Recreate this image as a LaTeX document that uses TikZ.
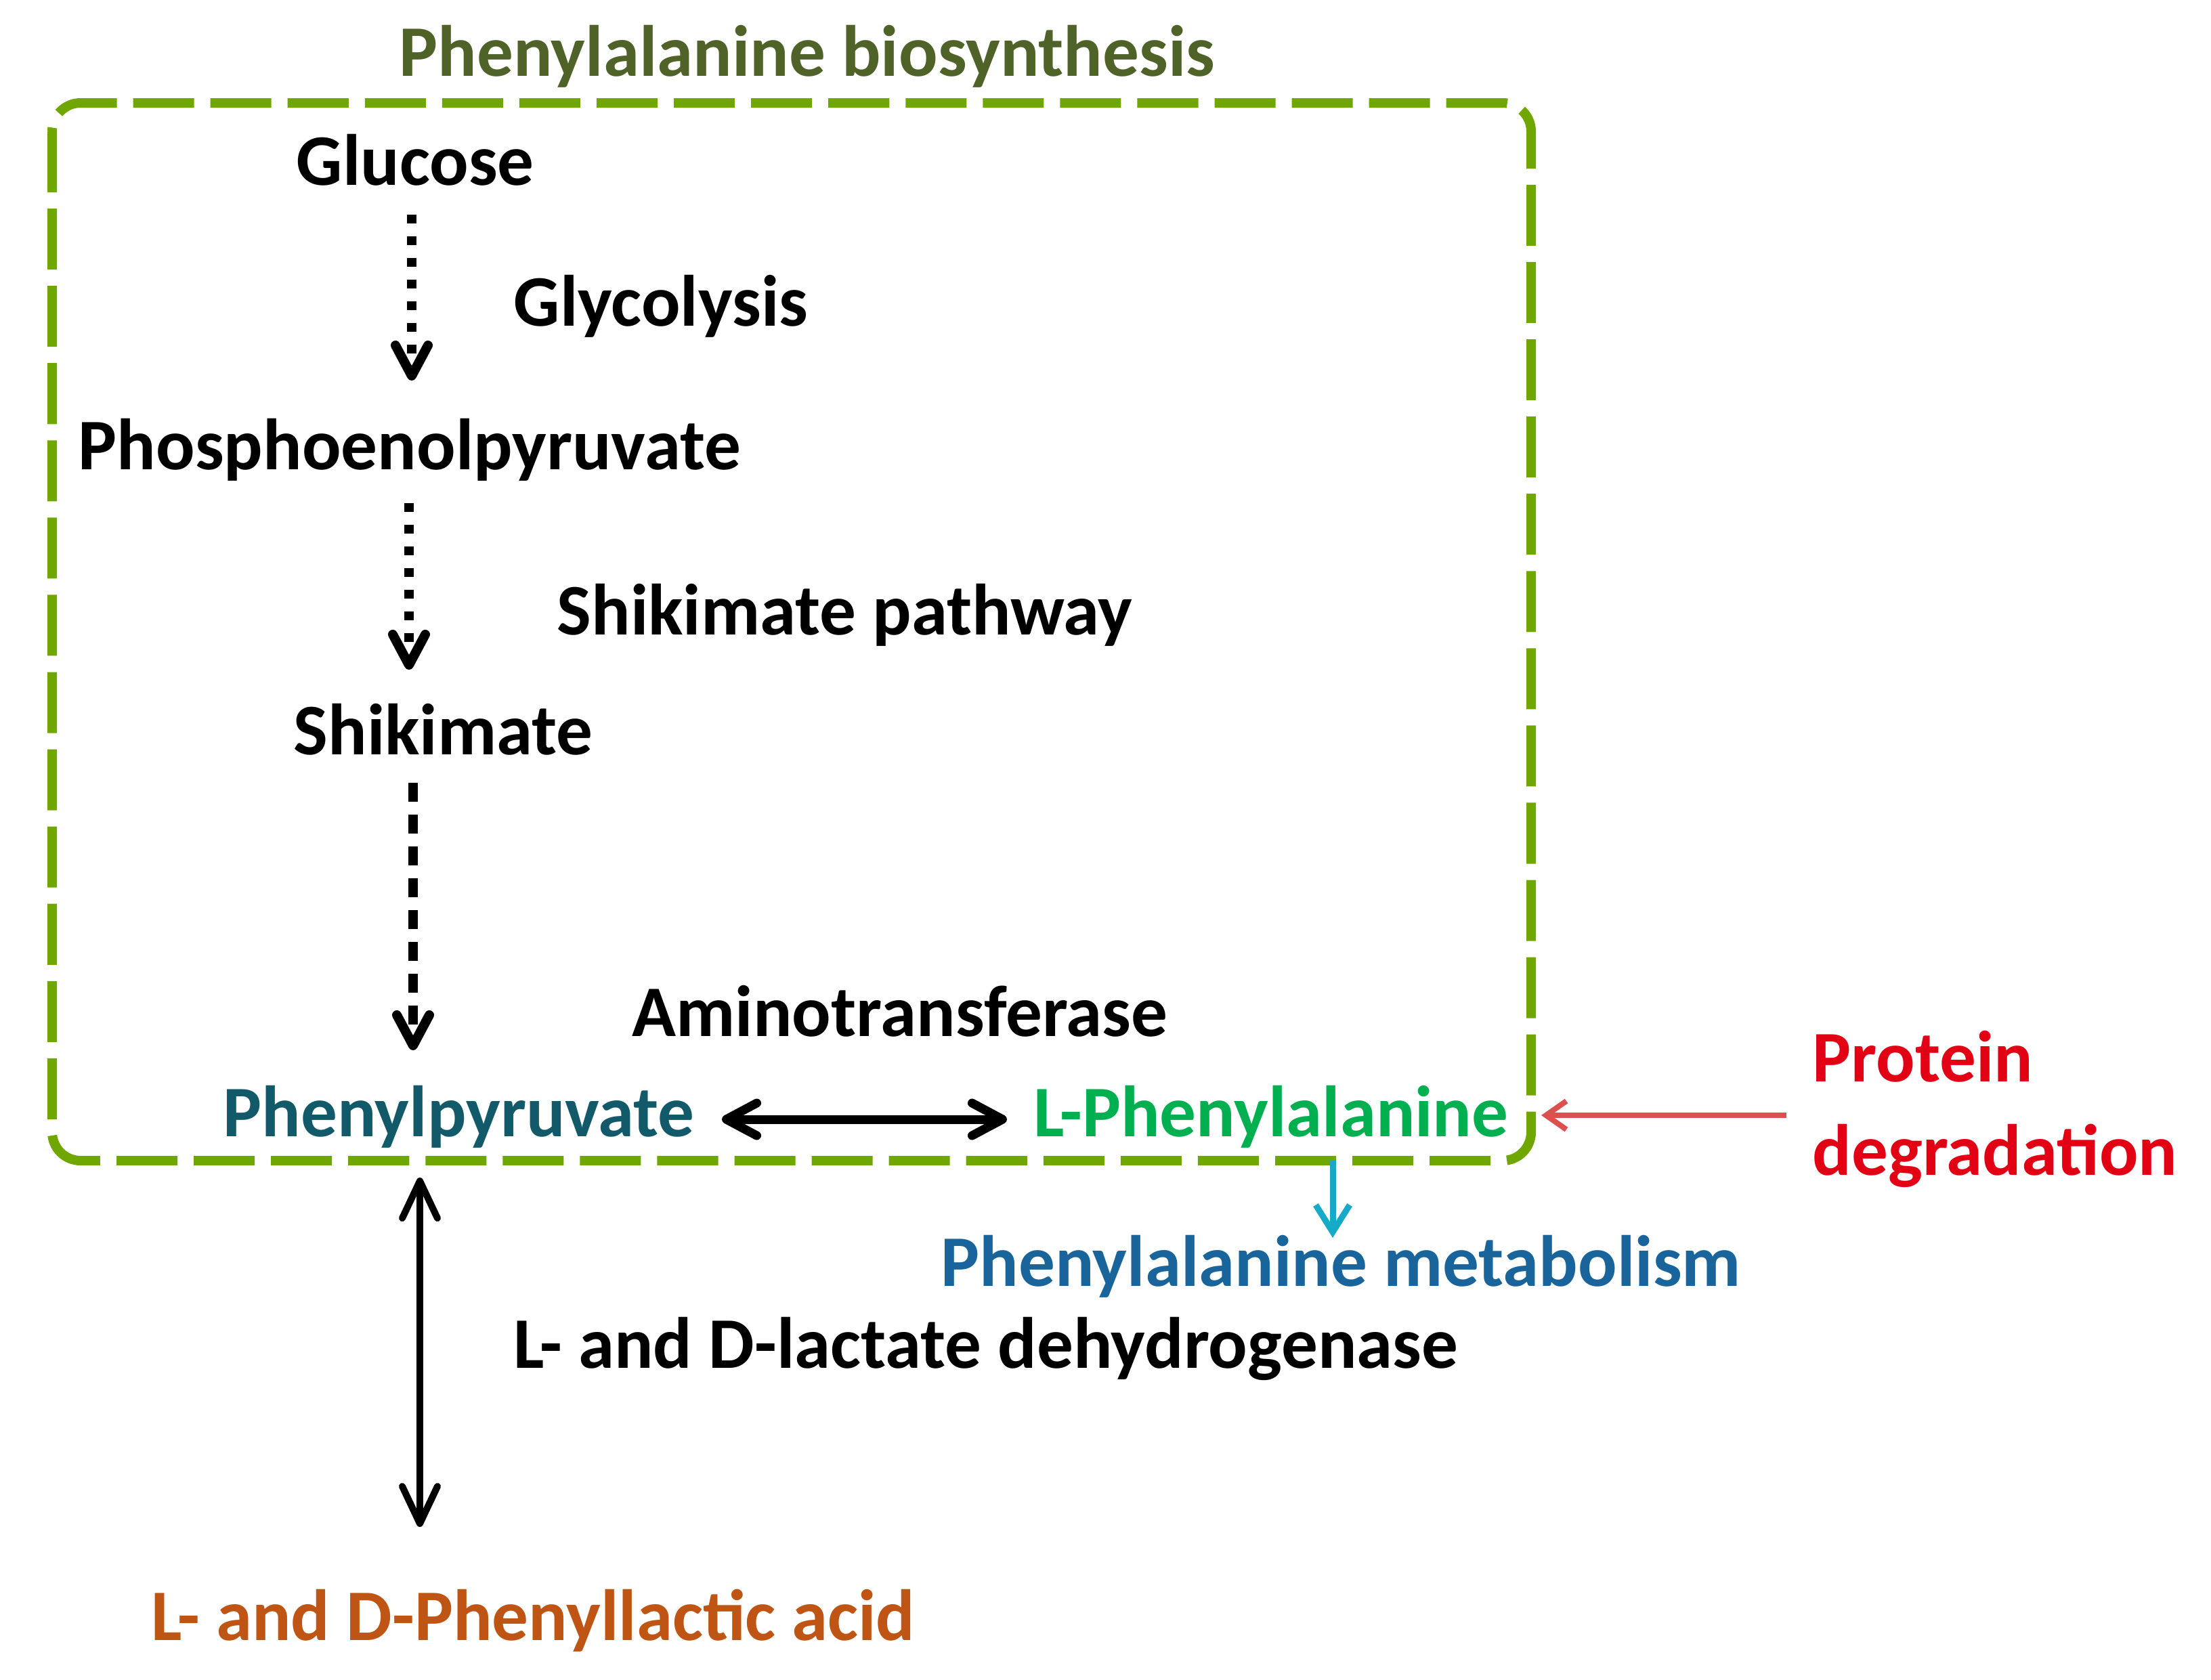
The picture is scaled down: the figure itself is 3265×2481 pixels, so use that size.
\documentclass[tikz,border=0pt]{standalone}
\usepackage{fontspec}
\setmainfont{Carlito}
\usetikzlibrary{arrows.meta}
\definecolor{titlegreen}{RGB}{79,98,40}
\definecolor{boxgreen}{RGB}{112,166,0}
\definecolor{tealtxt}{RGB}{18,90,105}
\definecolor{phegreen}{RGB}{0,176,80}
\definecolor{redarrow}{RGB}{220,80,80}
\definecolor{redtxt}{RGB}{225,0,20}
\definecolor{cyanarrow}{RGB}{20,170,200}
\definecolor{metablue}{RGB}{25,100,155}
\definecolor{browntxt}{RGB}{190,85,20}
\begin{document}
\begin{tikzpicture}[x=0.01cm,y=-0.01cm,
  txt/.style={inner sep=0pt, anchor=base west, font=\fontsize{30.5}{37}\selectfont\bfseries},
  dotarrow/.style={line width=0.14cm, dash pattern=on 0.13cm off 0.19cm, -{Straight Barb[length=0.45cm,width=0.48cm,line cap=round,line join=round]}},
  dasharrow/.style={line width=0.14cm, dash pattern=on 0.28cm off 0.19cm, -{Straight Barb[length=0.45cm,width=0.48cm,line cap=round,line join=round]}},
  dblarrow/.style={line width=0.13cm, {Straight Barb[length=0.45cm,width=0.48cm,line cap=round,line join=round]}-{Straight Barb[length=0.45cm,width=0.48cm,line cap=round,line join=round]}},
  pathbox/.style={draw=boxgreen, line width=0.14cm, dash pattern=on 0.9cm off 0.24cm, rounded corners=0.42cm}
]
\useasboundingbox (0,0) rectangle (3265,2481);

% box
\draw[pathbox] (77,152) rectangle (2261,1714);

% texts
\node[txt, text=titlegreen] (title) at (589,112) {Phenylalanine biosynthesis};
\node[txt] (glucose) at (437,273) {Glucose};
\node[txt] (glyco) at (758,481) {Glycolysis};
\node[txt] (pep) at (115,693) {Phosphoenolpyruvate};
\node[txt] (shikpath) at (822,937) {Shikimate pathway};
\node[txt] (shik) at (433,1114) {Shikimate};
\node[txt] (amino) at (933,1530) {Aminotransferase};
\node[txt, text=tealtxt] (ppyr) at (329,1678) {Phenylpyruvate};
\node[txt, text=phegreen] (lphe) at (1526,1678) {L-Phenylalanine};
\node[txt, text=redtxt] (prot1) at (2676,1597) {Protein};
\node[txt, text=redtxt] (prot2) at (2676,1735) {degradation};
\node[txt, text=metablue] (meta) at (1389,1899) {Phenylalanine metabolism};
\node[txt] (ldh) at (758,2020) {L- and D-lactate dehydrogenase};
\node[txt, text=browntxt] (pla) at (223,2422) {L- and D-Phenyllactic acid};

% connector endpoints
\coordinate (a1s) at (608,317);  \coordinate (a1e) at (608,562);
\coordinate (a2s) at (604,743);  \coordinate (a2e) at (604,989);
\coordinate (a3s) at (610,1156); \coordinate (a3e) at (610,1551);
\coordinate (hs) at (1066,1653); \coordinate (he) at (1487,1653);
\coordinate (vs) at (620,1739);  \coordinate (ve) at (620,2255);
\coordinate (rs) at (2638,1647); \coordinate (re) at (2276,1647);
\coordinate (cs) at (1968,1714); \coordinate (ce) at (1968,1828);

% arrows
\draw[dotarrow] (a1s) -- (a1e);
\draw[dotarrow] (a2s) -- (a2e);
\draw[dasharrow] (a3s) -- (a3e);
\draw[dblarrow] (hs) -- (he);
\draw[line width=0.1cm, {Straight Barb[length=0.55cm,width=0.52cm,line cap=round,line join=round]}-{Straight Barb[length=0.55cm,width=0.52cm,line cap=round,line join=round]}] (vs) -- (ve);
\draw[redarrow, line width=0.08cm, -{Straight Barb[length=0.3cm,width=0.42cm]}] (rs) -- (re);
\draw[cyanarrow, line width=0.09cm, -{Straight Barb[length=0.4cm,width=0.5cm]}] (cs) -- (ce);
\end{tikzpicture}
\end{document}
